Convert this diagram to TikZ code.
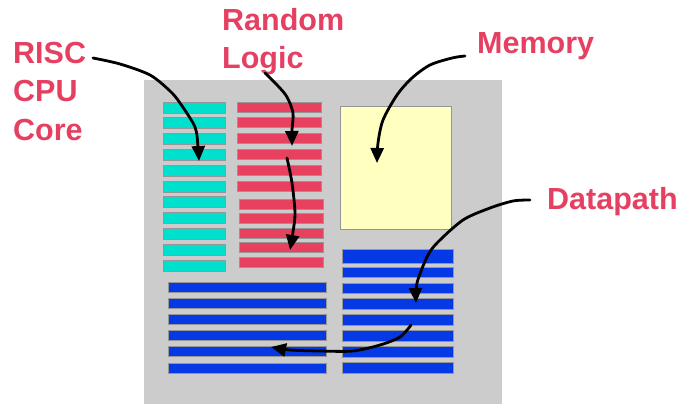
\documentclass[tikz,border=0pt]{standalone}
\usepackage{fontspec}
\setmainfont{Liberation Sans}
\usetikzlibrary{arrows.meta,positioning}
\definecolor{labelRed}{RGB}{229,64,98}
\definecolor{cpuCyan}{RGB}{0,224,204}
\definecolor{logicRed}{RGB}{232,64,95}
\definecolor{pathBlue}{RGB}{5,57,230}
\definecolor{memYellow}{RGB}{255,255,192}
\definecolor{chipGray}{RGB}{204,204,204}
\definecolor{barEdge}{RGB}{150,150,150}

\begin{document}
\begin{tikzpicture}[
    x=1pt, y=-1pt,
    chipLabel/.style={
        text=labelRed,
        font=\bfseries\fontsize{30.5}{38.5}\selectfont,
        align=left,
        inner sep=0pt,
        anchor=base west
    },
    chipBar/.style={draw=barEdge, line width=0.8pt},
    cpuBar/.style={chipBar, fill=cpuCyan},
    logicBar/.style={chipBar, fill=logicRed},
    pathBar/.style={chipBar, fill=pathBlue},
    memBlock/.style={draw=barEdge, line width=0.8pt, fill=memYellow},
    arrow/.style={-{Triangle[length=15pt,width=13pt]}, line width=2.8pt, line cap=round, line join=round}
]
    \useasboundingbox (0,0) rectangle (684,404);
    \fill[chipGray] (144,80) rectangle (502,404);

    \foreach \i in {0,...,10}
        \draw[cpuBar] (163,102+15.8*\i) rectangle ++(62,11);
    \foreach \i in {0,...,5}
        \draw[logicBar] (237,102+15.8*\i) rectangle ++(84,10);
    \foreach \i in {0,...,4}
        \draw[logicBar] (239,199+14.5*\i) rectangle ++(84,10);
    \foreach \i in {0,...,5}
        \draw[pathBar] (168,282+16.2*\i) rectangle ++(158,10);
    \draw[pathBar] (342,249) rectangle ++(111,14);
    \foreach \i in {0,...,6}
        \draw[pathBar] (342,267+15.9*\i) rectangle ++(111,10.5);
    \draw[memBlock] (340,106) rectangle (451,229);

    \node[chipLabel] (riscLbl) at (13,140) {RISC\\CPU\\Core};
    \node[chipLabel] (logicLbl) at (222,68.5) {Random\\Logic};
    \node[chipLabel] (memLbl) at (477,53) {Memory};
    \node[chipLabel] (pathLbl) at (547,209) {Datapath};

    \coordinate (riscStart) at (93,58);
    \coordinate (riscEnd) at (199,161);
    \coordinate (logicStart) at (265,73);
    \coordinate (logicEnd) at (292,146);
    \coordinate (logicMid) at (287,158);
    \coordinate (logicLow) at (290,250);
    \coordinate (memStart) at (465,56);
    \coordinate (memEnd) at (377,163);
    \coordinate (pathStart) at (530,200);
    \coordinate (pathEnd) at (416,303);
    \coordinate (busStart) at (411,325);
    \coordinate (busEnd) at (271,347);

    \draw[arrow] plot[smooth, tension=0.5] coordinates {(riscStart) (120,64) (150,75) (170,91) (180,103) (195,127) (198,147) (riscEnd)};
    \draw[arrow] plot[smooth, tension=0.5] coordinates {(logicStart) (278,86) (287,97) (293,113) (292,130) (logicEnd)};
    \draw[arrow] plot[smooth, tension=0.5] coordinates {(logicMid) (292,183) (295,213) (293,232) (logicLow)};
    \draw[arrow] plot[smooth, tension=0.5] coordinates {(memStart) (452,58) (430,65) (412,78) (397,95) (383,120) (378,143) (memEnd)};
    \draw[arrow] plot[smooth, tension=0.5] coordinates {(pathStart) (513,201) (490,208) (463,220) (437,243) (427,257) (417,283) (pathEnd)};
    \draw[arrow] plot[smooth, tension=0.5] coordinates {(busStart) (400,337) (380,345) (353,351) (320,351) (290,350) (busEnd)};
\end{tikzpicture}
\end{document}
